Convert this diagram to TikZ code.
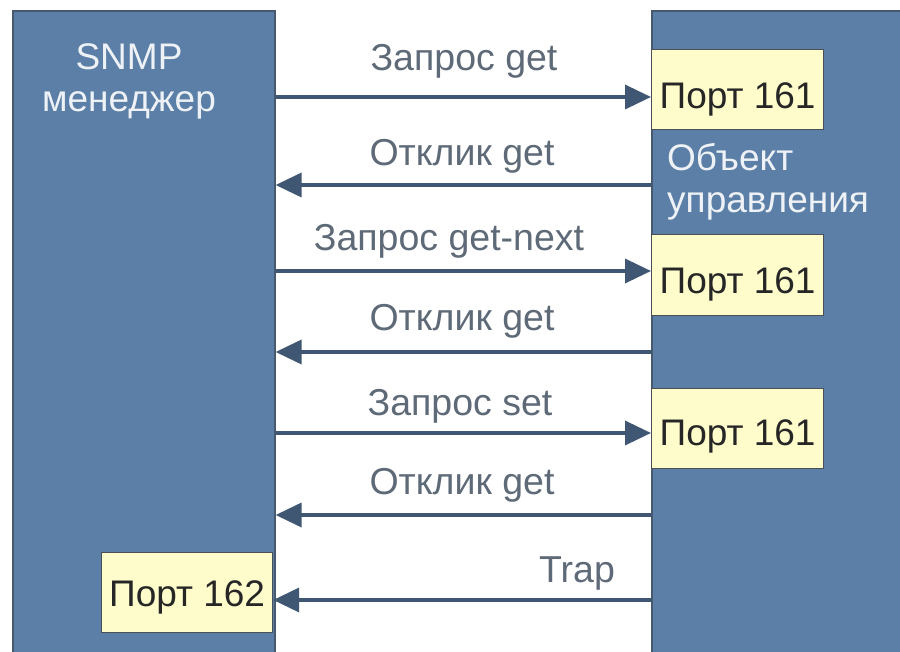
\documentclass[tikz,border=0pt]{standalone}
\usepackage{fontspec}
\setmainfont{Liberation Sans}
\usetikzlibrary{arrows.meta}
\definecolor{panelblue}{HTML}{5B7FA6}
\definecolor{paneledge}{HTML}{46596E}
\definecolor{arrowcol}{HTML}{3F5773}
\definecolor{labelgrey}{HTML}{5E6A77}
\definecolor{portfill}{HTML}{FFFCCB}
\definecolor{portedge}{HTML}{4A4F55}
\definecolor{paneltext}{HTML}{EEF2F6}
\tikzset{
  panel/.style={draw=paneledge, line width=1.6pt, fill=panelblue, anchor=north west, inner sep=0pt},
  port/.style={draw=portedge, line width=1.2pt, fill=portfill, anchor=north west, inner sep=0pt},
  porttext/.style={inner sep=0pt, font=\fontsize{37}{42}\selectfont, text=black!85},
  msg/.style={-{Triangle[length=26pt,width=24pt]}, draw=arrowcol, fill=arrowcol, line width=3.6pt},
  msglabel/.style={font=\fontsize{37.5}{42}\selectfont, text=labelgrey, inner sep=0pt},
  paneltitle/.style={font=\fontsize{37}{42}\selectfont, text=paneltext, inner sep=0pt}
}
\begin{document}
\begin{tikzpicture}[x=1pt,y=-1pt]
  \clip (0,0) rectangle (900,652);
  \fill[white] (0,0) rectangle (900,652);

  % the two parties
  \node[panel, minimum width=262pt, minimum height=660pt] (mgr) at (12,10) {};
  \node[panel, minimum width=262pt, minimum height=660pt] (agt) at (651,10) {};

  \node[paneltitle, align=center] (mgrname) at (129,81) {SNMP\\менеджер};
  \node[paneltitle, align=left, anchor=west] (agtname) at (667,182) {Объект\\управления};

  % ports
  \node[port, minimum width=172pt, minimum height=80pt] (p1) at (651,49) {};
  \node[port, minimum width=172pt, minimum height=81pt] (p2) at (651,234) {};
  \node[port, minimum width=172pt, minimum height=80pt] (p3) at (651,388) {};
  \node[port, minimum width=171pt, minimum height=80pt] (p4) at (101,552) {};
  \node[porttext] (t1) at ([yshift=-10pt]p1.center) {Порт 161};
  \node[porttext] (t2) at ([yshift=-9pt]p2.center) {Порт 161};
  \node[porttext] (t3) at ([yshift=-8pt]p3.center) {Порт 161};
  \node[porttext] (t4) at ([yshift=-5pt]p4.center) {Порт 162};

  % message levels
  \coordinate (y1) at (0,97);
  \coordinate (y2) at (0,185);
  \coordinate (y3) at (0,271);
  \coordinate (y4) at (0,352);
  \coordinate (y5) at (0,433);
  \coordinate (y6) at (0,515);
  \coordinate (y7) at (0,600);

  \draw[msg] (mgr.east |- y1) -- (p1.west |- y1);
  \draw[msg] (agt.west |- y2) -- (mgr.east |- y2);
  \draw[msg] (mgr.east |- y3) -- (p2.west |- y3);
  \draw[msg] (agt.west |- y4) -- (mgr.east |- y4);
  \draw[msg] (mgr.east |- y5) -- (p3.west |- y5);
  \draw[msg] (agt.west |- y6) -- (mgr.east |- y6);
  \draw[msg] (agt.west |- y7) -- (p4.east |- y7);

  % message names
  \node[msglabel] (l1) at (464,61) {Запрос get};
  \node[msglabel] (l2) at (462,156) {Отклик get};
  \node[msglabel] (l3) at (449,241) {Запрос get-next};
  \node[msglabel] (l4) at (462,321) {Отклик get};
  \node[msglabel] (l5) at (460,406) {Запрос set};
  \node[msglabel] (l6) at (462,485) {Отклик get};
  \node[msglabel] (l7) at (577,573) {Trap};
\end{tikzpicture}
\end{document}
